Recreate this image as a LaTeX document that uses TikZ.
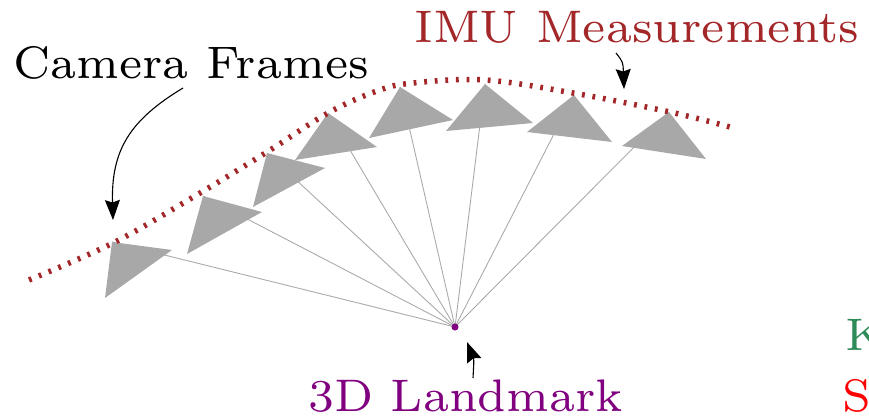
\documentclass[tikz,border=0pt]{standalone}
\usetikzlibrary{arrows.meta}
\definecolor{imured}{RGB}{163,38,40}
\definecolor{lmviolet}{RGB}{128,0,128}
\definecolor{kgreen}{RGB}{46,139,87}
\definecolor{camgray}{RGB}{168,168,168}
\definecolor{raygray}{RGB}{170,170,170}
\newcommand{\mylbl}[1]{\scalebox{6.52}{\fontsize{7}{8}\selectfont #1}}
\tikzset{
  cam/.style={fill=camgray, draw=none},
  ray/.style={draw=raygray, line width=0.9pt},
  imucurve/.style={draw=imured, line width=5.5pt, dash pattern=on 2.8pt off 7.8pt},
  callout/.style={draw=black, line width=1.1pt, -{Stealth[length=20pt,width=15pt,inset=2.5pt]}},
  lbl/.style={inner sep=0pt, anchor=base west}
}
\begin{document}
\begin{tikzpicture}[x=1pt,y=-1pt]
\useasboundingbox (0,0) rectangle (869,417);
\clip (0,0) rectangle (869,417);
% landmark
\node[circle, inner sep=0pt, minimum size=7pt] (lm) at (455,327) {};
% camera apexes
\coordinate (c1) at (112,242);
\coordinate (c2) at (203,196);
\coordinate (c3) at (267,153);
\coordinate (c4) at (328,113);
\coordinate (c5) at (400,87);
\coordinate (c6) at (485,84);
\coordinate (c7) at (574,95);
\coordinate (c8) at (669,112);
% rays
\foreach \c in {c1,c2,c3,c4,c5,c6,c7,c8}{\draw[ray] (lm.center) -- (\c);}
\fill[lmviolet] (lm.center) circle (3.5pt);
% camera triangles
\path[cam] (c1) -- (172,250) -- (105,298) -- cycle;
\path[cam] (c2) -- (262,212) -- (187,254) -- cycle;
\path[cam] (c3) -- (325,168) -- (253,207) -- cycle;
\path[cam] (c4) -- (377,147) -- (295,160) -- cycle;
\path[cam] (c5) -- (453,120) -- (369,138) -- cycle;
\path[cam] (c6) -- (533,123) -- (446,131) -- cycle;
\path[cam] (c7) -- (612,142) -- (527,132) -- cycle;
\path[cam] (c8) -- (706,159) -- (622,146) -- cycle;
% IMU trajectory
\draw[imucurve] plot[smooth, tension=0.6] coordinates {(29,280) (115,242) (200,193) (267,152) (328,113) (377,91) (413,83) (485,80) (573,93) (670,112) (730,127)};
% labels
\node[lbl] (cf) at (13,79) {\mylbl{Camera Frames}};
\node[lbl, text=imured] (imu) at (414,43) {\mylbl{IMU Measurements}};
\node[lbl, text=lmviolet] (lml) at (308,411) {\mylbl{3D Landmark}};
\node[lbl, text=kgreen] (kl) at (845,350) {\mylbl{K}};
\node[lbl, text=red] (sl) at (842,411) {\mylbl{S}};
% callout arrows
\coordinate (cfs) at (183,88);
\coordinate (cft) at (113,220);
\coordinate (imus) at (616,53);
\coordinate (imut) at (624,89);
\coordinate (lms) at (473,378);
\coordinate (lmt) at (467,342);
\draw[callout] (cfs) .. controls (130,120) and (111,150) .. (cft);
\draw[callout] (imus) .. controls (623,62) .. (imut);
\draw[callout] (lms) .. controls (474,360) .. (lmt);
\end{tikzpicture}
\end{document}
